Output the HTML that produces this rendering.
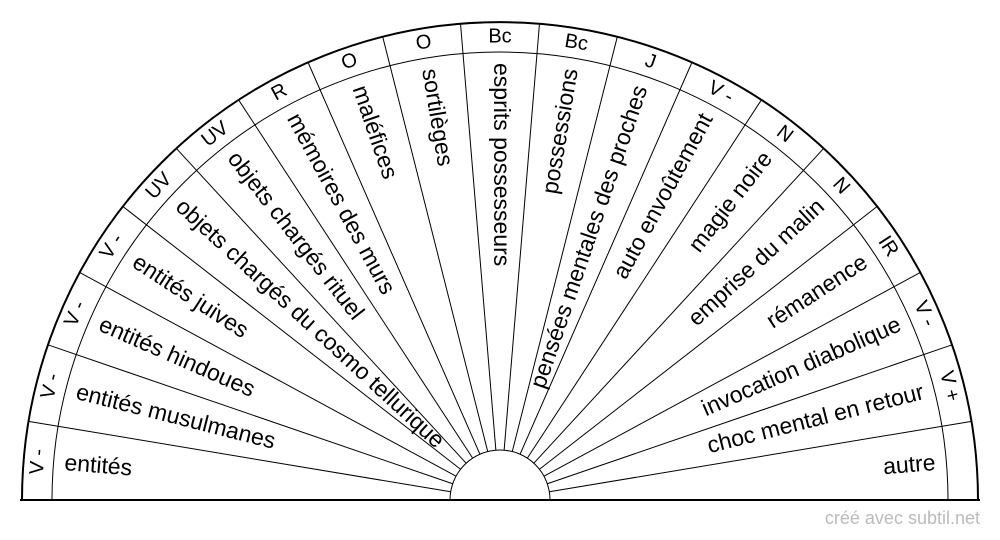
<!DOCTYPE html>
<html><head><meta charset="utf-8"><style>body{margin:0;background:#fff}svg{display:block}</style></head>
<body>
<svg id="s" width="1000" height="540" viewBox="0 0 1000 540" xmlns="http://www.w3.org/2000/svg" font-family="Liberation Sans, sans-serif">
<path d="M22 500 A478 478 0 0 1 978 500" fill="none" stroke="#000" stroke-width="2"/>
<path d="M52 500 A448 448 0 0 1 948 500" fill="none" stroke="#000" stroke-width="1"/>
<path d="M450 500 A50 50 0 0 1 550 500" fill="none" stroke="#000" stroke-width="1"/>
<line x1="20" y1="500" x2="980" y2="500" stroke="#000" stroke-width="2"/>
<g id="l" stroke="#000" stroke-width="1"></g>
<g id="t"></g>
<text x="980" y="524" font-size="18" fill="#bbb" text-anchor="end">créé avec subtil.net</text>
</svg>
<script>
(function(){
var labels=["entités","entités musulmanes","entités hindoues","entités juives","objets chargés du cosmo tellurique","objets chargés rituel","mémoires des murs","maléfices","sortilèges","esprits possesseurs","possessions","pensées mentales des proches","auto envoûtement","magie noire","emprise du malin","rémanence","invocation diabolique","choc mental en retour","autre"];
var tops=["V -","V -","V -","V -","UV","UV","R","O","O","Bc","Bc","J","V -","N","N","IR","V -","V +",""];
var cx=500,cy=500,s="",lines="";
for(var k=1;k<19;k++){var a=Math.PI*k/19,c=Math.cos(a),n=Math.sin(a);
lines+='<line x1="'+(cx+50*c)+'" y1="'+(cy-50*n)+'" x2="'+(cx+478*c)+'" y2="'+(cy-478*n)+'"/>';}
document.getElementById('l').innerHTML=lines;
for(var i=0;i<19;i++){
 var th=180-(i+0.5)*180/19, r=th*Math.PI/180, c=Math.cos(r), n=Math.sin(r);
 var x=cx+437*c, y=cy-437*n, rot, anc;
 if(i<=9){rot=180-th;anc="start";}else{rot=-th;anc="end";}
 s+='<text x="'+x+'" y="'+y+'" font-size="23" dominant-baseline="middle" text-anchor="'+anc+'" transform="rotate('+rot+' '+x+' '+y+')">'+labels[i]+'</text>';
 var bx=cx+463*c, by=cy-463*n;
 if(tops[i]) s+='<text x="'+bx+'" y="'+by+'" font-size="20" dominant-baseline="middle" text-anchor="middle" transform="rotate('+(90-th)+' '+bx+' '+by+')">'+tops[i]+'</text>';
}
document.getElementById('t').innerHTML=s;
})();
</script>
</body></html>
